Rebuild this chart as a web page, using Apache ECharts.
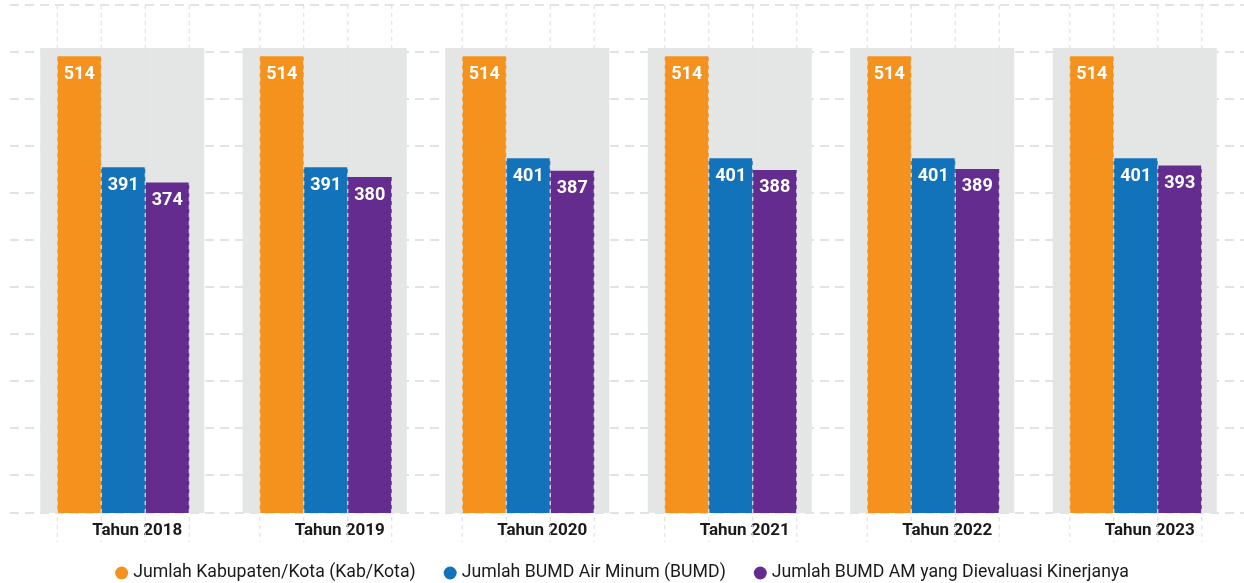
<!DOCTYPE html>
<html>
<head>
<meta charset="utf-8">
<script src="https://cdn.jsdelivr.net/npm/echarts@6/dist/echarts.min.js"></script>
<style>
  html, body { margin: 0; padding: 0; background: #fff; }
  #chart { width: 1244px; height: 583px; }
</style>
</head>
<body>
<div id="chart"></div>
<script>
// data
const years = ['Tahun 2018', 'Tahun 2019', 'Tahun 2020', 'Tahun 2021', 'Tahun 2022', 'Tahun 2023'];
const kabKota = [514, 514, 514, 514, 514, 514];
const bumd = [391, 391, 401, 401, 401, 401];
const dievaluasi = [374, 380, 387, 388, 389, 393];
const seriesNames = [
  'Jumlah Kabupaten/Kota (Kab/Kota)',
  'Jumlah BUMD Air Minum (BUMD)',
  'Jumlah BUMD AM yang Dievaluasi Kinerjanya'
];

const colors = ['#F5921E', '#1273BA', '#652C8F'];
const BAR_W = 44;

const chart = echarts.init(document.getElementById('chart'));

const barLabel = {
  show: true,
  position: 'insideTop',
  distance: 9,
  color: '#fff',
  fontFamily: 'Roboto',
  fontWeight: 'bold',
  fontSize: 18
};

function bar(name, data, color) {
  return {
    name: name,
    type: 'bar',
    xAxisIndex: 0,
    yAxisIndex: 0,
    barWidth: BAR_W,
    barGap: '0%',
    z: 3,
    itemStyle: { color: color },
    label: barLabel,
    data: data
  };
}

const option = {
  animation: false,
  textStyle: { fontFamily: 'Roboto' },
  legend: {
    left: 'center',
    top: 559,
    icon: 'circle',
    itemWidth: 13,
    itemHeight: 13,
    itemGap: 28,
    textStyle: { fontSize: 17.7, color: '#1a1a1a', fontFamily: 'Roboto' },
    data: seriesNames
  },
  grid: [
    { left: 22, right: 7, top: 48, bottom: 70 },
    { left: 10, right: 0, top: 5, bottom: 70 }
  ],
  xAxis: [
    {
      type: 'category',
      gridIndex: 0,
      data: years,
      axisLine: { show: false },
      axisTick: { show: false },
      axisLabel: {
        margin: 9,
        fontSize: 17,
        fontWeight: 'bold',
        color: '#1a1a1a',
        padding: [0, 0, 0, 28]
      }
    },
    { type: 'value', gridIndex: 1, min: 0, max: 1, show: false }
  ],
  yAxis: [
    { type: 'value', gridIndex: 0, min: 8, max: 523, show: false },
    {
      type: 'value',
      gridIndex: 1,
      inverse: true,
      min: 0,
      max: 508 / 47,
      interval: 1,
      axisLine: { show: false },
      axisTick: { show: false },
      axisLabel: { show: false },
      splitLine: {
        show: true,
        lineStyle: { color: '#e3e3e3', width: 2, type: [9, 6] }
      }
    }
  ],
  series: [
    {
      // grey panel behind each year's group
      type: 'custom',
      xAxisIndex: 0,
      yAxisIndex: 0,
      z: 1,
      silent: true,
      encode: { x: 0 },
      data: years.map((y, i) => [i]),
      renderItem: function (params, api) {
        const c = api.coord([api.value(0), 0]);
        const band = api.size([1, 0])[0];
        const w = band * 0.81;
        const cs = params.coordSys;
        return {
          type: 'rect',
          shape: { x: c[0] - w / 2 - 1, y: cs.y, width: w, height: cs.height },
          style: { fill: '#E4E5E5' }
        };
      }
    },
    bar(seriesNames[0], kabKota, colors[0]),
    bar(seriesNames[1], bumd, colors[1]),
    bar(seriesNames[2], dievaluasi, colors[2]),
    {
      // dashed guides along the bar edges
      type: 'custom',
      xAxisIndex: 0,
      yAxisIndex: 0,
      z: 5,
      silent: true,
      encode: { x: 0 },
      data: years.map((y, i) => [i]),
      renderItem: function (params, api) {
        const c = api.coord([api.value(0), 0]);
        const offs = [-1.5, -0.5, 0.5, 1.5];
        return {
          type: 'group',
          children: offs.map(o => ({
            type: 'line',
            shape: { x1: c[0] + o * BAR_W, y1: 5, x2: c[0] + o * BAR_W, y2: 542 },
            style: { stroke: '#e2e2e2', lineWidth: 1.2, lineDash: [4, 4] }
          }))
        };
      }
    }
  ]
};

chart.setOption(option);
</script>
</body>
</html>
